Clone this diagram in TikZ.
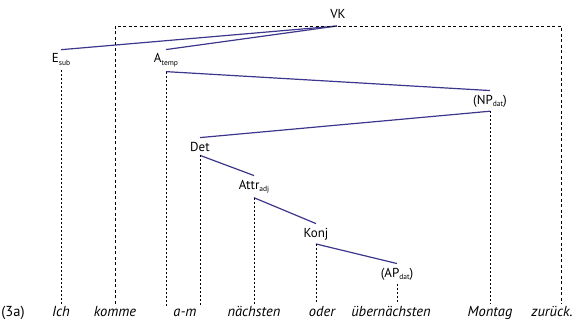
\documentclass[tikz,border=0pt]{standalone}
\usepackage{fontspec}
\setmainfont{PT Sans}
\definecolor{treeblue}{RGB}{60,54,140}
\newcommand{\lowsub}[1]{\raisebox{-0.45ex}{\fontsize{7.5}{8}\selectfont #1}}
\tikzset{
  cat/.style={anchor=base, inner xsep=1pt, inner ysep=4pt, font=\fontsize{13}{15}\selectfont},
  word/.style={anchor=base, inner sep=2pt, font=\fontsize{14.5}{17}\selectfont\itshape},
  branch/.style={treeblue, line width=1.2pt},
  proj/.style={line width=0.8pt, dash pattern=on 2pt off 2pt},
  frame/.style={line width=0.8pt, dash pattern=on 3pt off 2.5pt},
}
\begin{document}
\begin{tikzpicture}[x=1pt,y=-1pt]
\useasboundingbox (0,0) rectangle (587,329);
% categories
\node[cat] (VK) at (338,19) {VK};
\node[cat] (Esub) at (61,63) {E\lowsub{sub}};
\node[cat] (Atemp) at (166,63) {A\lowsub{temp}};
\node[cat] (NPdat) at (490,104) {(NP\lowsub{dat})};
\node[cat] (Det) at (200,151) {Det};
\node[cat] (Attradj) at (254,189) {Attr\lowsub{adj}};
\node[cat] (Konj) at (316,237) {Konj};
\node[cat] (APdat) at (397,277) {(AP\lowsub{dat})};
\coordinate (vkfoot) at (337,26);
\coordinate (frameR) at (561,26);
% words
\node[word, font=\fontsize{14.5}{17}\selectfont\upshape] (num) at (13,316) {(3a)};
\node[word] (ich) at (61,316) {Ich};
\node[word] (komme) at (115,316) {komme};
\node[word] (am) at (185,316) {a-m};
\node[word] (naechsten) at (254,316) {nächsten};
\node[word] (oder) at (322,316) {oder};
\node[word] (uebern) at (391,316) {übernächsten};
\node[word] (montag) at (490,316) {Montag};
\node[word] (zurueck) at (552,316) {zurück.};
% branches
\draw[branch] (vkfoot) -- (Esub.north);
\draw[branch] (vkfoot) -- (Atemp.north);
\draw[branch] (Atemp.south) -- (NPdat.north);
\draw[branch] (NPdat.south) -- (Det.north);
\draw[branch] (Det.south) -- (Attradj.north);
\draw[branch] (Attradj.south) -- (Konj.north);
\draw[branch] (Konj.south) -- (APdat.north);
% projection lines
\draw[frame] (komme.north) |- (frameR) -- (frameR |- zurueck.north);
\draw[proj] (Esub.south) -- (Esub.south |- ich.north);
\draw[proj] (Atemp.south) -- (Atemp.south |- am.north);
\draw[proj] (Det.south) -- (Det.south |- am.north);
\draw[proj] (Attradj.south) -- (Attradj.south |- naechsten.north);
\draw[proj] (Konj.south) -- (Konj.south |- oder.north);
\draw[proj] (APdat.south) -- (APdat.south |- uebern.north);
\draw[proj] (NPdat.south) -- (NPdat.south |- montag.north);
\end{tikzpicture}
\end{document}
